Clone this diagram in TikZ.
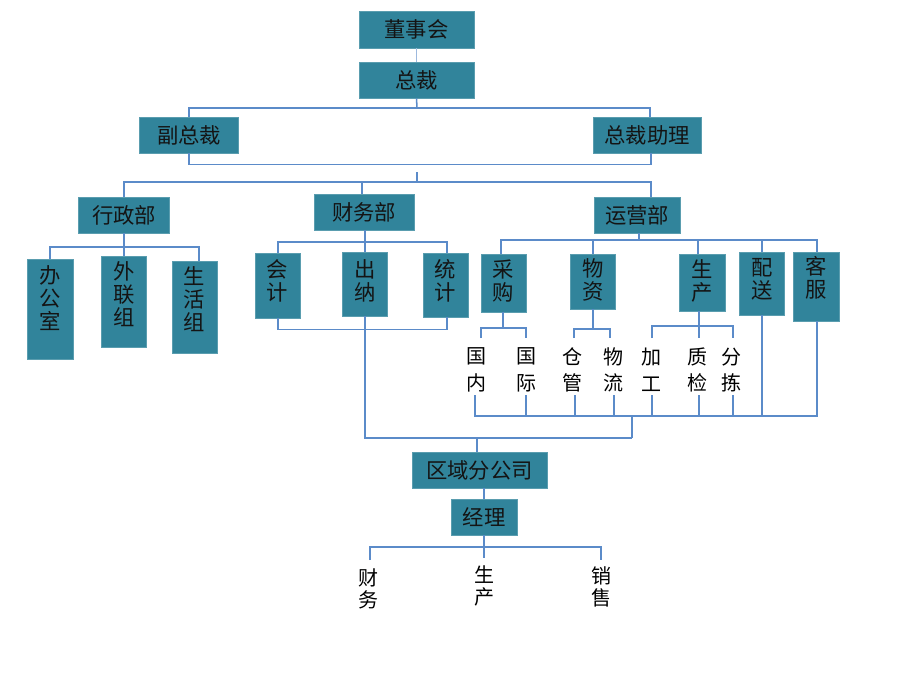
\documentclass[tikz,border=0pt]{standalone}
\usepackage{fontspec}
\setmainfont{Noto Sans CJK SC}
\usetikzlibrary{calc}
\definecolor{boxc}{HTML}{31849B}
\definecolor{linec}{HTML}{5B8BC9}
\definecolor{linel}{HTML}{9DB9DE}
\tikzset{
  wh/.style 2 args={minimum width=#1*0.75pt, minimum height=#2*0.75pt},
  box/.style={rectangle, fill=boxc, draw=boxc!80!white, line width=0.5pt, inner sep=0pt, text=black!92, font=\fontsize{16}{17}\selectfont},
  txt/.style={inner sep=0pt, align=center, text=black!92, font=\fontsize{16}{17.5}\selectfont},
  sub/.style={inner sep=0pt, align=center, text=black, font=\fontsize{15}{20}\selectfont},
  bot/.style={inner sep=0pt, align=center, text=black, font=\fontsize{15}{16.5}\selectfont},
  ln/.style={draw=linec, line width=1.15pt},
  lnl/.style={draw=linel, line width=1.15pt}
}
\begin{document}
\begin{tikzpicture}[x=0.75pt,y=-0.75pt]
\useasboundingbox (0,0) rectangle (900,674);
% ---------- top ----------
\node[box, wh={115}{37}] (dsh) at (416.5,29.5) {董事会};
\node[box, wh={115}{36}] (zc) at (416.5,80) {总裁};
\node[box, wh={99}{36}] (fzc) at (189,135) {副总裁};
\node[box, wh={108}{36}] (zczl) at (647,135) {总裁助理};
\node[box, wh={91}{36}] (xzb) at (124,215) {行政部};
\node[box, wh={100}{36}] (cwb) at (364,212) {财务部};
\node[box, wh={86}{36}] (yyb) at (637,215) {运营部};
% ---------- 行政部 children ----------
\node[box, wh={46}{100}] (bgs) at (50,309) {};
\node[txt] (bgsT) at (50,298) {办\\公\\室};
\node[box, wh={45}{91}] (wlz) at (124,301.5) {};
\node[txt] (wlzT) at (124,294) {外\\联\\组};
\node[box, wh={45}{92}] (shz) at (194.5,307) {};
\node[txt] (shzT) at (194.5,299) {生\\活\\组};
% ---------- 财务部 children ----------
\node[box, wh={45}{65}] (kj) at (277.5,285.5) {};
\node[txt] (kjT) at (277.5,281) {会\\计};
\node[box, wh={45}{64}] (cn) at (365,284) {};
\node[txt] (cnT) at (365,281) {出\\纳};
\node[box, wh={45}{64}] (tj) at (445.5,285) {};
\node[txt] (tjT) at (445.5,281) {统\\计};
% ---------- 运营部 children ----------
\node[box, wh={45}{58}] (cg) at (503.5,283) {};
\node[txt] (cgT) at (503.5,281) {采\\购};
\node[box, wh={45}{55}] (wz) at (593,281.5) {};
\node[txt] (wzT) at (593,280) {物\\资};
\node[box, wh={46}{57}] (sc) at (702,282.5) {};
\node[txt] (scT) at (702,281) {生\\产};
\node[box, wh={45}{63}] (ps) at (762,283.5) {};
\node[txt] (psT) at (762,279) {配\\送};
\node[box, wh={46}{69}] (kf) at (816,286.5) {};
\node[txt] (kfT) at (816,278) {客\\服};
% ---------- sub texts ----------
\node[sub] (gn) at (476,370) {国\\内};
\node[sub] (gji) at (526,370) {国\\际};
\node[sub] (cang) at (572,370) {仓\\管};
\node[sub] (wl) at (613,370) {物\\流};
\node[sub] (jg) at (651,370) {加\\工};
\node[sub] (zj) at (697,370) {质\\检};
\node[sub] (fj) at (731,370) {分\\拣};
% ---------- bottom ----------
\node[box, wh={135}{36}] (qy) at (479.5,470) {区域分公司};
\node[box, wh={66}{36}] (jl) at (484,517) {经理};
\node[bot] (bcw) at (368,589) {财\\务};
\node[bot] (bsc) at (484,586) {生\\产};
\node[bot] (bxs) at (601,587) {销\\售};
% ---------- coordinates ----------
\coordinate (b1) at (417,108);
\coordinate (stubtop) at (417,172);
\coordinate (b3) at (417,182);
\coordinate (b4) at (124,247);
\coordinate (b5) at (365,242);
\coordinate (b7) at (632,438);
\coordinate (b8) at (639,240);
\coordinate (bb) at (632,416);
\coordinate (cgb) at (503,328);
\coordinate (cgd1) at (481,338);
\coordinate (cgd2) at (526,338);
\coordinate (wzb) at (593,329);
\coordinate (wzd1) at (574,338);
\coordinate (wzd2) at (610,338);
\coordinate (scb) at (699,326);
\coordinate (scd0) at (699,338);
\coordinate (scd1) at (652,338);
\coordinate (scd2) at (733,338);
\coordinate (u1) at (475,395);
\coordinate (u2) at (526,395);
\coordinate (u3) at (575,395);
\coordinate (u4) at (614,395);
\coordinate (u5) at (652,395);
\coordinate (u6) at (699,395);
\coordinate (u7) at (733,395);
\coordinate (qt) at (477,438);
\coordinate (jb) at (484,547);
\coordinate (e1) at (370,560);
\coordinate (e2) at (484,558);
\coordinate (e3) at (601,560);
% ---------- connectors ----------
\draw[lnl] (dsh.south) -- (zc.north);
\draw[ln] (zc.south) -- (b1);
\draw[ln] (fzc.north) |- (b1) -| ($(zczl.north)+(3,0)$);
\draw[ln] (fzc.south) -- ++(0,11) -| ($(zczl.south)+(4,0)$);
\draw[ln] (stubtop) -- (b3);
\draw[ln] (xzb.north) |- (b3) -| ($(yyb.north)+(14,0)$);
\draw[ln] ($(cwb.north)+(-2,0)$) |- (b3);
% 行政部
\draw[ln] (xzb.south) -- (b4);
\draw[ln] (bgs.north) |- (b4) -| ($(shz.north)+(4.5,0)$);
\draw[ln] (b4) -- (wlz.north);
% 财务部
\draw[ln] (cwb.south -| b5) -- (b5);
\draw[ln] ($(kj.north)+(0.5,0)$) |- (b5) -| ($(tj.north)+(1.5,0)$);
\draw[ln] (b5) -- (cn.north);
\draw[ln] ($(kj.south)+(0.5,0)$) -- ++(0,11) -| ($(tj.south)+(1.5,0)$);
\draw[ln] (cn.south) |- (b7);
% 运营部
\draw[ln] ($(yyb.south)+(2,0)$) -- (b8);
\draw[ln] ($(cg.north)+(-2.5,0)$) |- (b8) -| ($(kf.north)+(1,0)$);
\draw[ln] (wz.north) -- (wz.north |- b8);
\draw[ln] ($(sc.north)+(-4,0)$) -- ($(sc.north)+(-4,-15)$);
\draw[ln] (ps.north) -- (ps.north |- b8);
% sub-children
\draw[ln] (cg.south -| cgb) -- (cgb);
\draw[ln] (cgd1) |- (cgb) -| (cgd2);
\draw[ln] (wz.south) -- (wzb);
\draw[ln] (wzd1) |- (wzb) -| (wzd2);
\draw[ln] ($(sc.south)+(-3,0)$) -- (scd0);
\draw[ln] (scd1) |- (scb) -| (scd2);
% bottom bus
\draw[ln] (u1) |- (bb) -| ($(kf.south)+(1,0)$);
\draw[ln] (u2) -- (u2 |- bb);
\draw[ln] (u3) -- (u3 |- bb);
\draw[ln] (u4) -- (u4 |- bb);
\draw[ln] (u5) -- (u5 |- bb);
\draw[ln] (u6) -- (u6 |- bb);
\draw[ln] (u7) -- (u7 |- bb);
\draw[ln] (ps.south) -- (ps.south |- bb);
\draw[ln] (bb) -- (b7);
\draw[ln] (qt) -- (qt |- qy.north);
\draw[ln] (jl.north) -- (jl.north |- qy.south);
\draw[ln] (jl.south) -- (e2);
\draw[ln] (e1) |- (jb) -| (e3);
\end{tikzpicture}
\end{document}
